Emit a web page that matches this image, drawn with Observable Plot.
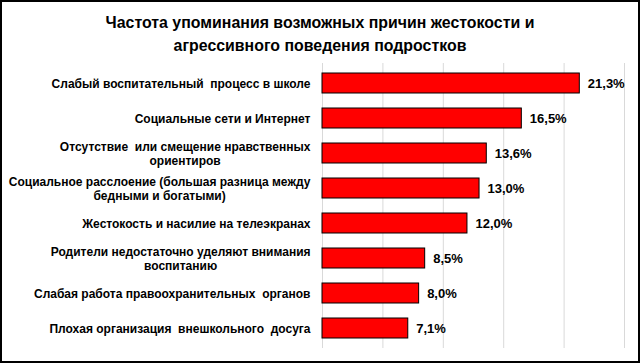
<!DOCTYPE html>
<html><head><meta charset="utf-8">
<script src="https://cdn.jsdelivr.net/npm/d3@7"></script>
<script src="https://cdn.jsdelivr.net/npm/@observablehq/plot@0.6"></script>
<style>
body{margin:0;background:#fff;}
#wrap{position:relative;width:640px;height:363px;overflow:hidden;background:#fff;}
#frame{position:absolute;left:0;top:0;width:640px;height:363px;box-sizing:border-box;border:2px solid #000;pointer-events:none;}
#title{position:absolute;left:0;top:11px;width:640px;text-align:center;font-family:"Liberation Sans",Arial,sans-serif;font-weight:bold;font-size:17px;line-height:23px;color:#000;transform:scaleX(0.935);transform-origin:320px 0;}
#chart{position:absolute;left:0;top:58px;width:640px;height:300px;}
#chart svg{display:block;}
</style></head>
<body>
<div id="wrap">
<div id="title">Частота упоминания возможных причин жестокости и<br>агрессивного поведения подростков</div>
<div id="chart"></div>
<div id="frame"></div>
</div>
<script>
const categories = [
  "Слабый воспитательный  процесс в школе",
  "Социальные сети и Интернет",
  "Отсутствие  или смещение нравственных\nориентиров",
  "Социальное расслоение (большая разница между\nбедными и богатыми)",
  "Жестокость и насилие на телеэкранах",
  "Родители недостаточно уделяют внимания\nвоспитанию",
  "Слабая работа правоохранительных  органов",
  "Плохая организация  внешкольного  досуга"
];
const values = [21.3, 16.5, 13.6, 13.0, 12.0, 8.5, 8.0, 7.1];
const valueLabels = ["21,3%", "16,5%", "13,6%", "13,0%", "12,0%", "8,5%", "8,0%", "7,1%"];
const gridTicks = [0, 5, 10, 15, 20, 25];

const data = categories.map((c, i) => ({cat: c, value: values[i], label: valueLabels[i]}));

const plot = Plot.plot({
  width: 640,
  height: 300,
  marginLeft: 322,
  marginRight: 16,
  marginTop: 5,
  marginBottom: 10,
  style: {fontFamily: "'Liberation Sans', Arial, sans-serif", fontSize: "12px", background: "transparent"},
  x: {domain: [0, 25], axis: null},
  y: {domain: categories, axis: null, paddingInner: 0.44, paddingOuter: 0.22},
  marks: [
    Plot.ruleX(gridTicks, {stroke: "#d9d9d9", strokeWidth: 1}),
    Plot.barX(data, {x: "value", y: "cat", fill: "#ff0000", stroke: "#000", strokeWidth: 1}),
    Plot.text(data, {x: "value", y: "cat", text: "label", textAnchor: "start", dx: 8, fontWeight: "bold", fontSize: 13, fill: "#000"}),
    Plot.text(data, {x: 0, y: "cat", text: "cat", textAnchor: "end", dx: -12, fontWeight: "bold", fontSize: 12, fill: "#000", lineHeight: 1.15, className: "cat-labels"})
  ]
});
document.getElementById("chart").appendChild(plot);

// center multi-line labels (as in the original), keeping right edge aligned
plot.querySelectorAll("g.cat-labels text").forEach(t => {
  const spans = t.querySelectorAll("tspan");
  if (spans.length > 1) {
    const w = t.getBBox().width;
    t.setAttribute("text-anchor", "middle");
    const tr = t.getAttribute("transform") || "";
    t.setAttribute("transform", tr + ` translate(${-w / 2},0)`);
  }
});
</script>
</body></html>
